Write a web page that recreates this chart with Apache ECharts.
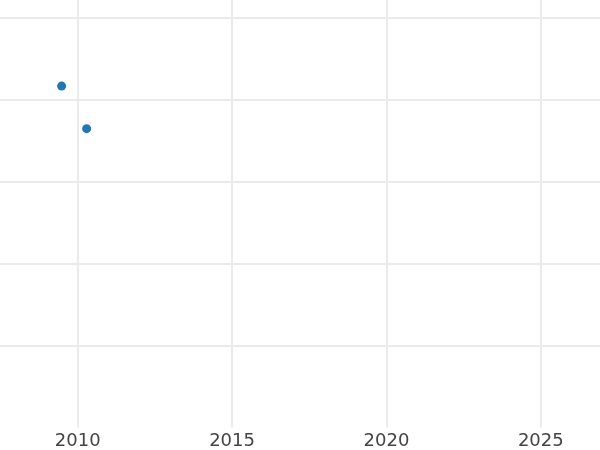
<!DOCTYPE html>
<html>
<head>
<meta charset="utf-8">
<script src="https://cdn.jsdelivr.net/npm/echarts@6/dist/echarts.min.js"></script>
<style>
  html, body { margin: 0; padding: 0; background: #fff; }
  #chart { width: 600px; height: 450px; }
</style>
</head>
<body>
<div id="chart"></div>
<script>
// point data
const years = [2009.48, 2010.29]
const values = [4.17, 3.65]

const points = years.map((x, i) => [x, values[i]])

const chart = echarts.init(document.getElementById('chart'))

chart.setOption({
  animation: false,
  backgroundColor: '#ffffff',
  grid: {
    left: -76.7,
    right: -95.2,
    top: 0,
    bottom: 22.4,
    containLabel: false,
    outerBoundsMode: 'none'
  },
  xAxis: {
    type: 'value',
    min: 2005,
    max: 2030,
    interval: 5,
    axisLine: { show: false },
    axisTick: { show: false },
    axisLabel: {
      color: '#444444',
      fontSize: 18,
      fontFamily: 'DejaVu Sans',
      margin: 5,
      formatter: v => String(v)
    },
    splitLine: {
      show: true,
      lineStyle: { color: '#ebebeb', width: 2 }
    }
  },
  yAxis: {
    type: 'value',
    min: 0,
    max: 5.221,
    interval: 1,
    axisLine: { show: false },
    axisTick: { show: false },
    axisLabel: { show: false },
    splitLine: {
      show: true,
      showMinLine: false,
      showMaxLine: false,
      lineStyle: { color: '#ebebeb', width: 2 }
    }
  },
  series: [
    {
      type: 'scatter',
      data: points,
      symbol: 'circle',
      symbolSize: 9,
      itemStyle: { color: '#1f77b4', opacity: 1 }
    }
  ]
})
</script>
</body>
</html>
